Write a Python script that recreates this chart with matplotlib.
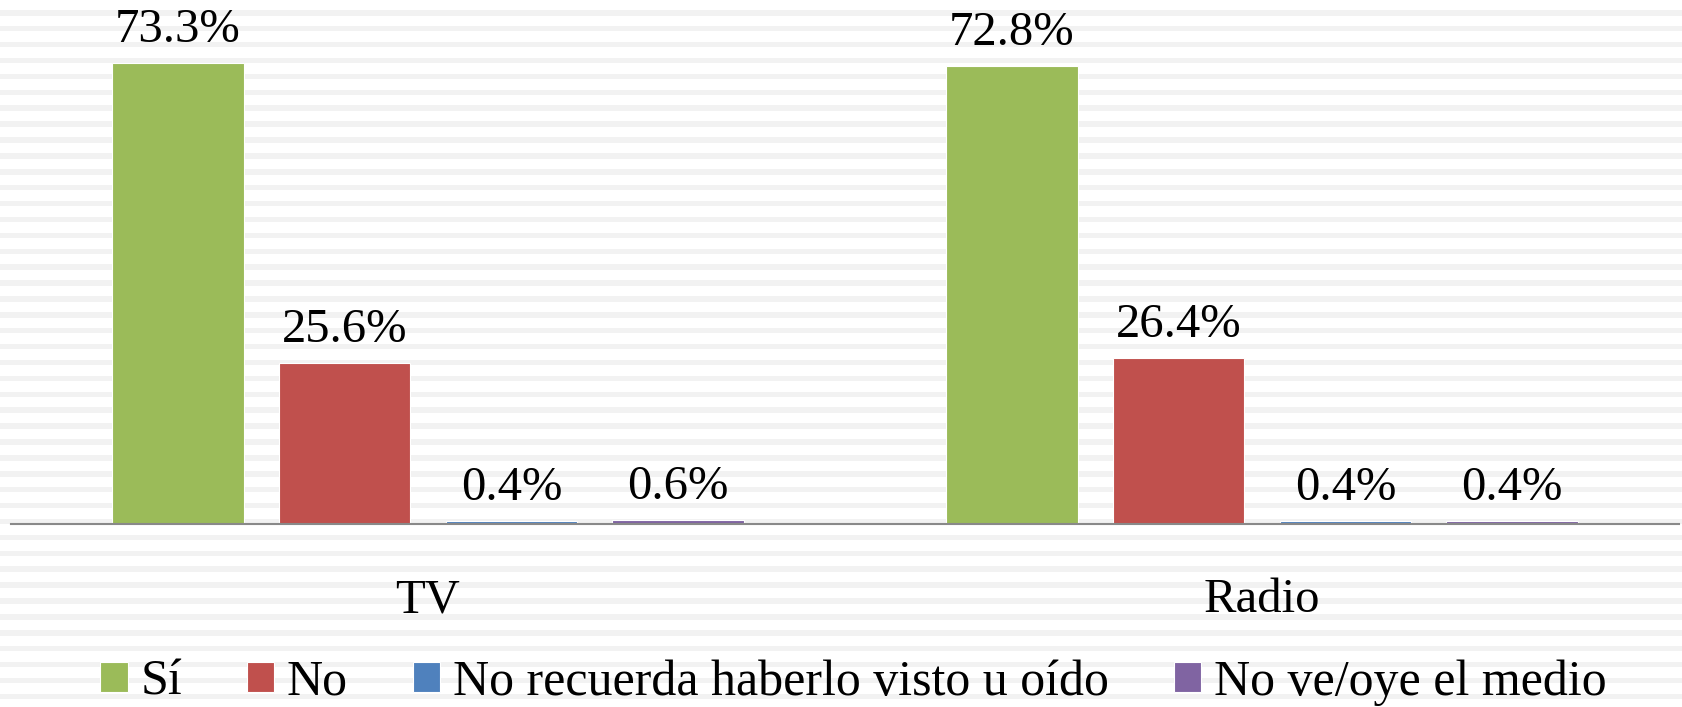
import matplotlib.pyplot as plt
import numpy as np

categories = ['TV', 'Radio']
series = ['Sí', 'No', 'No recuerda haberlo visto u oído', 'No ve/oye el medio']
si = [73.3, 72.8]
no = [25.6, 26.4]
no_recuerda = [0.4, 0.4]
no_ve = [0.6, 0.4]
colors = ['#9BBB59', '#C0504D', '#4F81BD', '#8064A2']

plt.rcParams['font.family'] = ['Liberation Serif', 'DejaVu Serif']

W, H = 1683, 707
fig = plt.figure(figsize=(W / 100, H / 100), dpi=100)

# striped background over the whole figure
bg = fig.add_axes([0, 0, 1, 1], zorder=0)
bg.set_xlim(0, W)
bg.set_ylim(H, 0)
bg.axis('off')
y = 10.0
while y < H:
    bg.axhspan(y, y + 5.5, color='#f2f2f2', lw=0)
    y += 15.9

ax = fig.add_axes([11 / W, 1 - 524 / H, 1668 / W, 524 / H], zorder=1)
ax.set_facecolor('none')

x = np.arange(len(categories))
values = [si, no, no_recuerda, no_ve]
for k, (vals, c, name) in enumerate(zip(values, colors, series)):
    bars = ax.bar(x + (k - 1.5) * 0.2, vals, width=0.158, color=c,
                  edgecolor='white', linewidth=0.8, label=name)
    for b, v in zip(bars, vals):
        ax.annotate(f'{v:.1f}%', (b.get_x() + b.get_width() / 2, v),
                    xytext=(0, 8), textcoords='offset points',
                    ha='center', va='bottom', fontsize=35)

ax.set_xlim(-0.5, 1.5)
ax.set_ylim(0, 83.3)
ax.set_yticks([])
ax.set_xticks(x)
ax.set_xticklabels(categories, fontsize=35)
ax.tick_params(axis='x', length=0, pad=39)
for s in ['top', 'left', 'right']:
    ax.spines[s].set_visible(False)
ax.spines['bottom'].set_color('#898989')
ax.spines['bottom'].set_linewidth(1.5)

fig.legend(loc='center', bbox_to_anchor=(0.507, 0.035), ncol=4, frameon=False,
           fontsize=36, handlelength=0.55, handleheight=0.55, handletextpad=0.25,
           columnspacing=1.3, borderaxespad=0)

fig.savefig('out.png', dpi=100)
